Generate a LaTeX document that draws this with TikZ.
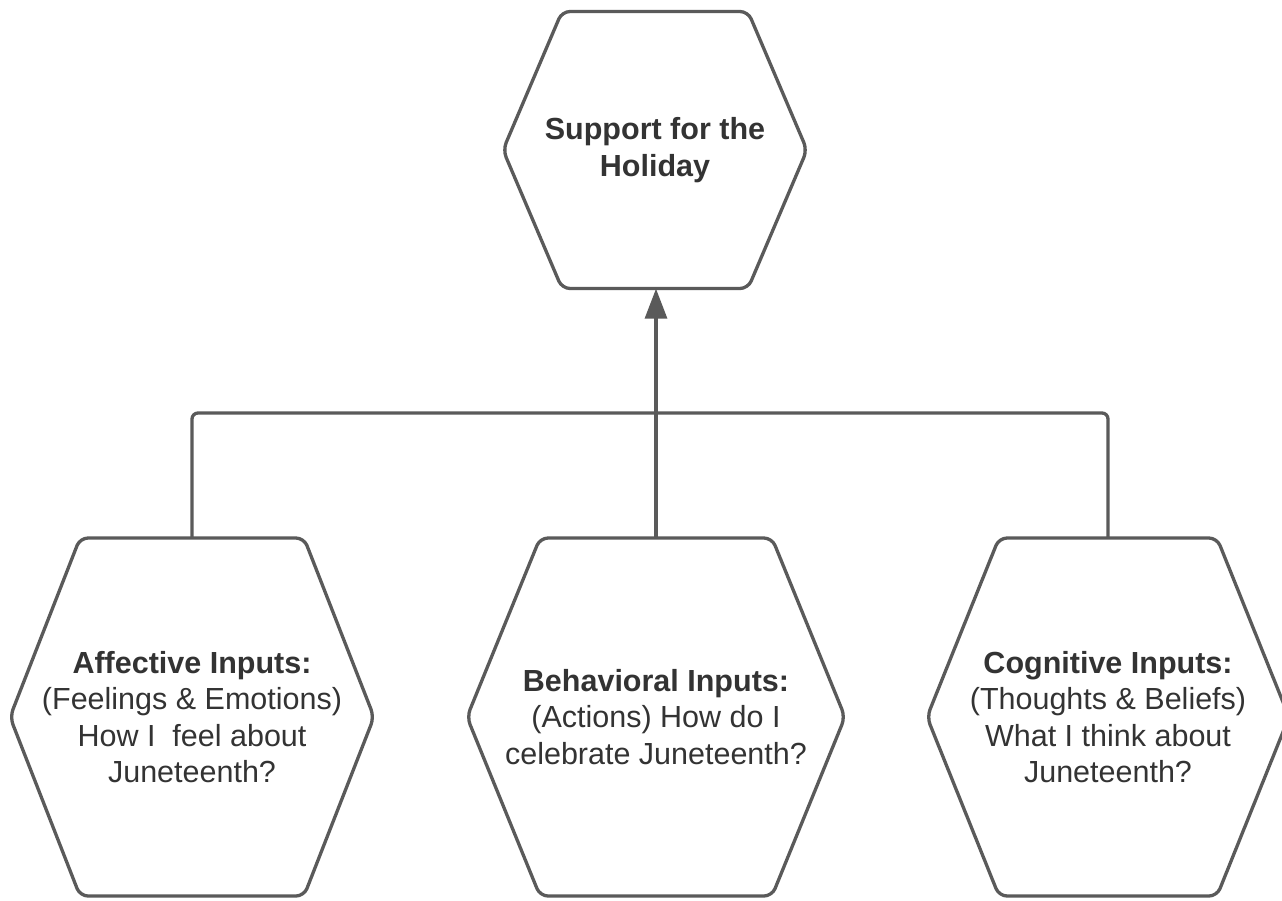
\documentclass[tikz,border=0pt]{standalone}
\usepackage{fontspec}
\setmainfont{Liberation Sans}
\usetikzlibrary{calc,arrows.meta}
\definecolor{linegray}{HTML}{5A5A5A}
\definecolor{textgray}{HTML}{333333}
% #1 node name, #2 half width, #3 half top width, #4 half height
\newcommand\hexoutline[4]{%
  \draw[hexline] ($(#1.center)+(-#2,0)$) -- ($(#1.center)+(-#3,-#4)$) -- ($(#1.center)+(#3,-#4)$)
    -- ($(#1.center)+(#2,0)$) -- ($(#1.center)+(#3,#4)$) -- ($(#1.center)+(-#3,#4)$) -- cycle;}
\begin{document}
\begin{tikzpicture}[x=1pt,y=-1pt,
  hexline/.style={draw=linegray, line width=3.3pt, rounded corners=8pt, line join=round},
  hexnode/.style={inner sep=0pt, align=center, text=textgray,
    font=\fontsize{30.5}{36.5}\selectfont},
  conn/.style={draw=linegray, line width=3.3pt, line join=round}]
\useasboundingbox (0,0) rectangle (1282,900);
\fill[white] (0,0) rectangle (1282,900);

\node[hexnode, minimum width=304pt, minimum height=277pt] (sup) at (655,150)
  {\textbf{Support for the}\\\textbf{Holiday}};
\node[hexnode, minimum width=364pt, minimum height=358pt] (aff) at (192,717)
  {\textbf{Affective Inputs:}\\(Feelings \& Emotions)\\How I~ feel about\\Juneteenth?};
\node[hexnode, minimum width=378pt, minimum height=358pt] (beh) at (656,717)
  {\textbf{Behavioral Inputs:}\\(Actions) How do I\\celebrate Juneteenth?};
\node[hexnode, minimum width=362pt, minimum height=358pt] (cog) at (1108,717)
  {\textbf{Cognitive Inputs:}\\(Thoughts \& Beliefs)\\What I think about\\Juneteenth?};

\hexoutline{sup}{152}{93}{138.5}
\hexoutline{aff}{182}{112}{179}
\hexoutline{beh}{189}{116}{179}
\hexoutline{cog}{181}{109}{179}

\coordinate (bar) at (655,413);
\draw[conn, rounded corners=6pt] (aff.north) |- (bar) -| (cog.north);
\draw[conn] (beh.north) -- (beh.north |- bar);
\draw[conn, -{Triangle[length=30pt,width=22pt]}] (beh.north |- bar) -- (beh.north |- sup.south);
\end{tikzpicture}
\end{document}
